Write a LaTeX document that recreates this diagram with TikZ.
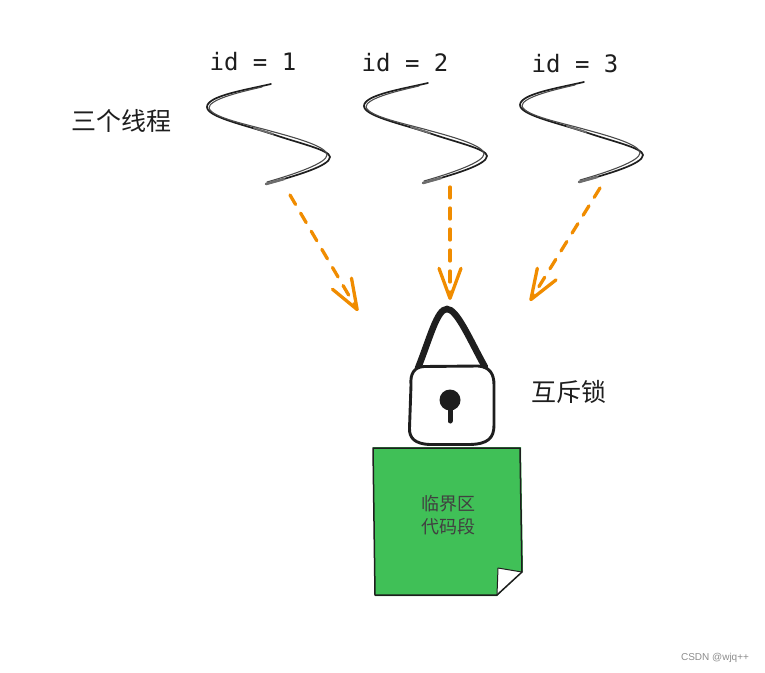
\documentclass[tikz,border=0pt]{standalone}
\usepackage{fontspec}
\setmainfont{Noto Sans CJK SC}
\setmonofont{DejaVu Sans Mono}
\newfontfamily\wmfont{Liberation Sans}
\usepackage{tikz}
\usetikzlibrary{arrows.meta,shapes.misc}
\definecolor{inkdark}{HTML}{1E1E1E}
\definecolor{sketchorange}{HTML}{F08C00}
\definecolor{notegreen}{HTML}{40C057}
\tikzset{
  idlbl/.style={font=\fontsize{24}{26}\selectfont\ttfamily,text=inkdark,inner sep=0pt},
  cjklbl/.style={font=\fontsize{25}{28}\selectfont,text=inkdark,inner sep=0pt},
  notelbl/.style={font=\fontsize{18}{23}\selectfont,text=inkdark!85,align=center,inner sep=0pt},
  wmlbl/.style={font=\fontsize{10}{12}\selectfont\wmfont,text=black!45,inner sep=0pt},
  threadln/.style={draw=inkdark,line width=1.7pt,line cap=round},
  threadfaint/.style={draw=inkdark!80,line width=1.1pt,line cap=round},
  threadtail/.style={draw=inkdark!65,line width=2.6pt,line cap=round},
  waitarrow/.style={draw=sketchorange,line width=3.3pt,line cap=round,
    dash pattern=on 11pt off 10pt,
    -{Straight Barb[length=30pt,width=22pt,round]}},
  lockline/.style={draw=inkdark,fill=white,line width=2.9pt,line join=round},
  shackle/.style={draw=inkdark,line width=6.5pt,line cap=round},
  keyhole/.style={circle,fill=inkdark,minimum size=21pt,inner sep=0pt},
  keystem/.style={draw=inkdark,line width=5pt,line cap=round},
  noteline/.style={draw=inkdark,line width=1.5pt,line join=round},
}
\begin{document}
\begin{tikzpicture}[x=1pt,y=-1pt]
  \useasboundingbox (0,0) rectangle (765,672);
  % thread labels
  \node[idlbl] (id1) at (253,62) {id = 1};
  \node[idlbl] (id2) at (405,63) {id = 2};
  \node[idlbl] (id3) at (575,64) {id = 3};
  \node[cjklbl] (threads) at (121,121) {三个线程};
  % threads
  \foreach \dx/\dy in {0/0,157/-1,313/-2} {
    \begin{scope}[shift={(\dx,\dy)}]
      \draw[threadln] (271,84) .. controls (245,90) and (207,96) .. (207,107)
        .. controls (207,117) and (245,125) .. (272,134)
        .. controls (298,143) and (330,150) .. (330,157)
        .. controls (330,166) and (295,176) .. (266,184);
      \draw[threadfaint] (262,87) .. controls (235,93) and (209,100) .. (209,108)
        .. controls (212,118) and (250,125) .. (274,132)
        .. controls (300,139) and (327,147) .. (327,155)
        .. controls (327,163) and (295,174) .. (267,182);
      \draw[threadtail] (266,184) -- (284,179);
      \draw[threadtail,line width=1.8pt] (254,128) -- (273,134);
    \end{scope}
  }
  % arrows down to the lock
  \coordinate (from1) at (290,195);
  \coordinate (to1) at (358,311);
  \coordinate (from2) at (450,187);
  \coordinate (to2) at (450,300);
  \coordinate (from3) at (600,188);
  \coordinate (to3) at (530,301);
  \draw[waitarrow] (from1) -- (to1);
  \draw[waitarrow] (from2) -- (to2);
  \draw[waitarrow] (from3) -- (to3);
  % lock
  \coordinate (shackleL) at (418,368);
  \coordinate (shackleR) at (485,367);
  \draw[shackle] (shackleL) .. controls (430,338) and (437,309) .. (447,309)
    .. controls (457,309) and (470,340) .. (shackleR);
  \draw[lockline] (424,366.5) -- (478,366) .. controls (490,367) and (494,374) .. (494,385)
    -- (494,425) .. controls (494,438) and (488,444) .. (470,444.5)
    -- (430,444.5) .. controls (415,444) and (409,438) .. (409.5,428)
    -- (411,385) .. controls (410,374) and (414,367) .. cycle;
  \node[keyhole] (hole) at (450,400) {};
  \coordinate (stemend) at (450,421);
  \draw[keystem] (hole) -- (stemend);
  \node[cjklbl] (mutex) at (569,392) {互斥锁};
  % critical section note
  \fill[notegreen] (373,447) -- (521,447) -- (523,571) -- (497,596) -- (375,596) -- cycle;
  \fill[white] (498,568) -- (522,572) -- (497,595) -- cycle;
  \draw[noteline] (373,448) -- (520,448) -- (522,572) -- (497,595) -- (375,595) -- cycle;
  \draw[noteline,line width=1pt] (522,572) -- (498,568) -- (497,595);
  \node[notelbl] (section) at (448,515) {临界区\\代码段};
  \node[wmlbl] (mark) at (715,658) {CSDN @wjq++};
\end{tikzpicture}
\end{document}
